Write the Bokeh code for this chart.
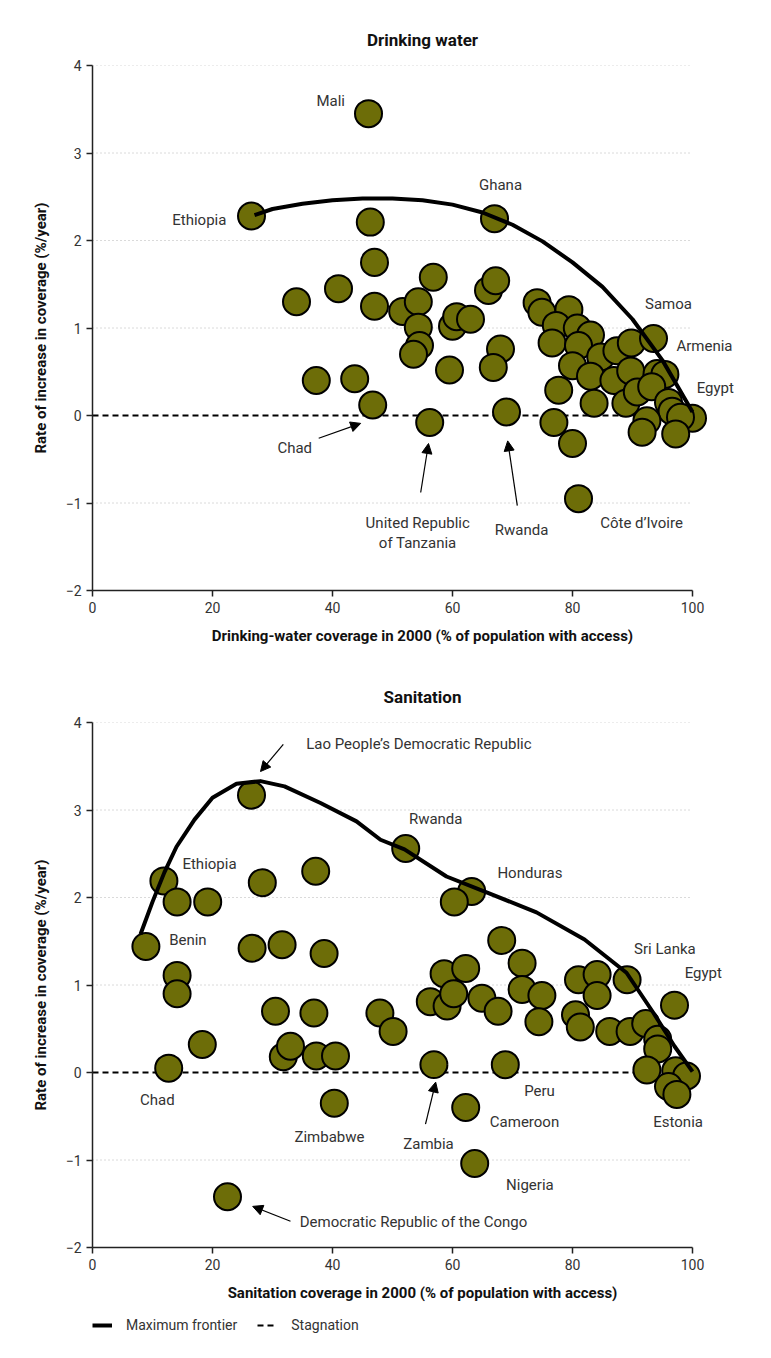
from bokeh.plotting import figure
from bokeh.models import (ColumnDataSource, FixedTicker, Arrow, NormalHead,
                          Legend, LegendItem, Range1d)
from bokeh.layouts import column
from bokeh.embed import file_html
from bokeh.resources import INLINE
from bokeh.core.properties import value

# ---------------- data ----------------
x_ticks = [0, 20, 40, 60, 80, 100]
y_ticks = [-2, -1, 0, 1, 2, 3, 4]
grid_vals = [4, 3, 2, 1, -1]
stag_x = [0, 100]
stag_y = [0, 0]
legend_labels = ["Maximum frontier", "Stagnation"]

# Drinking water
water_x = [26.5, 46.0, 46.3, 67.0, 47.0, 34.0, 41.0, 47.0, 56.8, 51.7, 54.3, 54.3,
           54.5, 53.5, 60.0, 60.7, 63.0, 66.0, 67.2, 37.3, 43.7, 46.7, 56.2, 59.5,
           68.0, 66.8, 69.0, 74.1, 74.9, 79.4, 77.3, 80.8, 83.0, 76.6, 81.0, 84.7,
           87.4, 89.8, 93.5, 80.0, 83.0, 86.9, 89.7, 94.1, 95.4, 77.7, 83.6, 88.9,
           90.8, 93.2, 96.0, 96.6, 100.0, 98.0, 76.9, 92.4, 91.6, 97.2, 80.0, 81.0]
water_y = [2.28, 3.45, 2.21, 2.25, 1.75, 1.30, 1.45, 1.25, 1.58, 1.19, 1.30, 1.01,
           0.80, 0.70, 1.02, 1.13, 1.10, 1.43, 1.54, 0.40, 0.42, 0.12, -0.08, 0.52,
           0.76, 0.55, 0.04, 1.29, 1.18, 1.21, 1.03, 1.00, 0.92, 0.83, 0.80, 0.67,
           0.74, 0.83, 0.88, 0.57, 0.45, 0.40, 0.51, 0.48, 0.47, 0.29, 0.14, 0.14,
           0.27, 0.33, 0.15, 0.05, -0.03, -0.02, -0.08, -0.06, -0.19, -0.21, -0.32, -0.95]
water_front_x = [27, 30, 35, 40, 45, 50, 55, 60, 65, 70, 75, 80, 85, 90, 95, 100]
water_front_y = [2.29, 2.36, 2.42, 2.46, 2.48, 2.48, 2.46, 2.41, 2.32, 2.18, 1.99,
                 1.75, 1.47, 1.10, 0.63, 0.04]
water_labels = ["Mali", "Ethiopia", "Ghana", "Samoa", "Armenia", "Egypt", "Chad",
                "United Republic", "of Tanzania", "Rwanda", "Côte d’Ivoire"]
water_label_x = [39.7, 17.8, 68.0, 96.0, 102.0, 103.8, 33.7, 54.2, 54.2, 71.5, 91.5]
water_label_y = [3.60, 2.23, 2.63, 1.27, 0.79, 0.31, -0.37, -1.23, -1.46, -1.31, -1.23]
water_arrow_x0 = [37.7, 54.7, 70.8]
water_arrow_y0 = [-0.26, -0.88, -1.03]
water_arrow_x1 = [44.7, 56.0, 69.2]
water_arrow_y1 = [-0.09, -0.32, -0.29]

# Sanitation
san_x = [26.5, 11.9, 14.1, 19.2, 28.3, 37.2, 52.2, 63.2, 60.3, 8.9, 26.6, 31.6,
         38.6, 14.1, 14.1, 30.5, 36.9, 47.9, 50.1, 18.3, 12.7, 31.8, 33.0, 37.3,
         40.5, 40.3, 22.5, 68.2, 71.6, 58.6, 62.2, 56.3, 59.1, 60.2, 64.9, 67.6,
         71.6, 74.9, 74.4, 56.9, 68.8, 62.2, 63.7, 81.0, 84.1, 84.1, 89.1, 80.5,
         81.3, 86.2, 89.6, 92.2, 94.2, 94.2, 92.4, 97.0, 97.2, 99.0, 96.0, 97.4]
san_y = [3.17, 2.19, 1.95, 1.95, 2.17, 2.30, 2.56, 2.07, 1.95, 1.44, 1.42, 1.46,
         1.36, 1.11, 0.90, 0.70, 0.68, 0.68, 0.47, 0.32, 0.05, 0.18, 0.30, 0.19,
         0.19, -0.35, -1.42, 1.51, 1.25, 1.13, 1.19, 0.81, 0.76, 0.90, 0.85, 0.70,
         0.95, 0.88, 0.58, 0.09, 0.09, -0.40, -1.04, 1.06, 1.12, 0.88, 1.06, 0.66,
         0.52, 0.47, 0.47, 0.56, 0.38, 0.27, 0.03, 0.77, 0.02, -0.04, -0.16, -0.25]
san_front_x = [8, 10, 12, 14, 17, 20, 24, 28, 32, 38, 44, 48, 52, 59, 66, 74, 82,
               89, 93.5, 97, 100]
san_front_y = [1.58, 1.95, 2.29, 2.58, 2.89, 3.14, 3.30, 3.33, 3.27, 3.08, 2.87,
               2.66, 2.55, 2.24, 2.05, 1.83, 1.52, 1.14, 0.68, 0.30, 0.01]
san_labels = ["Lao People’s Democratic Republic", "Rwanda", "Ethiopia", "Honduras",
              "Benin", "Sri Lanka", "Egypt", "Chad", "Zimbabwe", "Zambia", "Peru",
              "Cameroon", "Nigeria", "Estonia", "Democratic Republic of the Congo"]
san_label_x = [54.4, 57.2, 19.5, 72.9, 15.9, 95.4, 101.8, 10.8, 39.5, 56.0, 74.5,
               72.0, 72.9, 97.6, 53.5]
san_label_y = [3.75, 2.90, 2.38, 2.28, 1.52, 1.41, 1.14, -0.31, -0.74, -0.82, -0.21,
               -0.57, -1.29, -0.57, -1.71]
san_arrow_x0 = [31.8, 55.5, 33.0]
san_arrow_y0 = [3.75, -0.59, -1.70]
san_arrow_x1 = [28.0, 57.2, 26.7]
san_arrow_y1 = [3.44, -0.11, -1.53]

# ---------------- style ----------------
FONT = "Roboto"
OLIVE = "#6d6d08"
TXT = "#333333"
FRONT_STYLE = dict(line_color="black", line_width=4, line_join="round")
STAG_STYLE = dict(line_color="black", line_width=2, line_dash="6 4")


def make_panel(title, xlabel, px, py, fx, fy, lx, ly, lt, ax0, ay0, ax1, ay1,
               border_top, border_bottom):
    p = figure(frame_width=660, frame_height=525,
               x_range=Range1d(0, 110), y_range=Range1d(-2, 4),
               output_backend="svg", toolbar_location=None,
               min_border_left=92, min_border_right=3, min_border_top=border_top,
               min_border_bottom=border_bottom, title=title)
    p.outline_line_color = None
    p.background_fill_color = "white"
    p.title.align = "center"
    p.title.text_font = FONT
    p.title.text_font_size = "17px"
    p.title.text_font_style = "bold"
    p.title.text_color = "#111111"
    p.title.standoff = 32
    p.xgrid.visible = False
    p.ygrid.visible = False

    for ax, ticks, bounds in ((p.xaxis[0], x_ticks, (0, 100)),
                              (p.yaxis[0], y_ticks, (-2, 4))):
        ax.ticker = FixedTicker(ticks=ticks)
        ax.bounds = bounds
        ax.axis_line_width = 1.5
        ax.axis_line_color = "#222222"
        ax.major_tick_line_color = "#222222"
        ax.major_tick_line_width = 1.5
        ax.major_tick_out = 6
        ax.major_tick_in = 0
        ax.minor_tick_line_color = None
        ax.major_label_text_font = FONT
        ax.major_label_text_font_size = "14px"
        ax.major_label_text_font_style = "normal"
        ax.major_label_text_color = TXT
        ax.axis_label_text_font = FONT
        ax.axis_label_text_font_size = "15px"
        ax.axis_label_text_font_style = "bold"
        ax.axis_label_text_color = "#111111"
    p.yaxis[0].major_label_overrides = {-2: "\u22122", -1: "\u22121"}
    p.xaxis[0].axis_label = xlabel
    p.yaxis[0].axis_label = "Rate of increase in coverage (%/year)"
    p.xaxis[0].axis_label_standoff = 11
    p.yaxis[0].axis_label_standoff = 13

    # dotted gridlines
    p.segment(x0=[0] * len(grid_vals), y0=grid_vals, x1=[100] * len(grid_vals),
              y1=grid_vals, line_color="#b5b5b5", line_width=1, line_dash="1 3")
    p.line(stag_x, stag_y, **STAG_STYLE)
    p.scatter(px, py, marker="circle", size=27, fill_color=OLIVE,
              line_color="black", line_width=2)
    p.line(fx, fy, **FRONT_STYLE)

    p.text(x=lx, y=ly, text=lt, text_align="center", text_baseline="middle",
           text_font=value(FONT), text_font_size="15px", text_color=TXT)

    src = ColumnDataSource(dict(x0=ax0, y0=ay0, x1=ax1, y1=ay1))
    p.add_layout(Arrow(x_start="x0", y_start="y0", x_end="x1", y_end="y1",
                       source=src, line_color="black", line_width=1.2,
                       end=NormalHead(size=10, fill_color="black",
                                      line_color="black", line_width=1)))
    return p


p1 = make_panel("Drinking water",
                "Drinking-water coverage in 2000 (% of population with access)",
                water_x, water_y, water_front_x, water_front_y,
                water_label_x, water_label_y, water_labels,
                water_arrow_x0, water_arrow_y0, water_arrow_x1, water_arrow_y1,
                65, 75)
p2 = make_panel("Sanitation",
                "Sanitation coverage in 2000 (% of population with access)",
                san_x, san_y, san_front_x, san_front_y,
                san_label_x, san_label_y, san_labels,
                san_arrow_x0, san_arrow_y0, san_arrow_x1, san_arrow_y1,
                57, 62)

# legend strip below the second panel (its lines sit outside the visible range;
# only their legend samples are shown)
p3 = figure(width=755, height=36, output_backend="svg", toolbar_location=None,
            x_axis_location=None, y_axis_location=None, min_border=0,
            x_range=Range1d(-20, -10), y_range=Range1d(-20, -10))
p3.outline_line_color = None
p3.xgrid.visible = False
p3.ygrid.visible = False
r_front = p3.line(san_front_x, san_front_y, **FRONT_STYLE)
r_stag = p3.line(stag_x, stag_y, **STAG_STYLE)
legend = Legend(items=[LegendItem(label=legend_labels[0], renderers=[r_front]),
                       LegendItem(label=legend_labels[1], renderers=[r_stag])],
                orientation="horizontal", location=(0, 12),
                border_line_color=None, background_fill_alpha=0,
                label_text_font=FONT, label_text_font_size="14px",
                label_text_color=TXT, glyph_width=20, glyph_height=16,
                label_standoff=14, spacing=20, padding=0, margin=0)
p3.add_layout(legend, "center")

layout = column(p1, p2, p3, spacing=0)
open("out.html", "w").write(file_html(layout, INLINE))
